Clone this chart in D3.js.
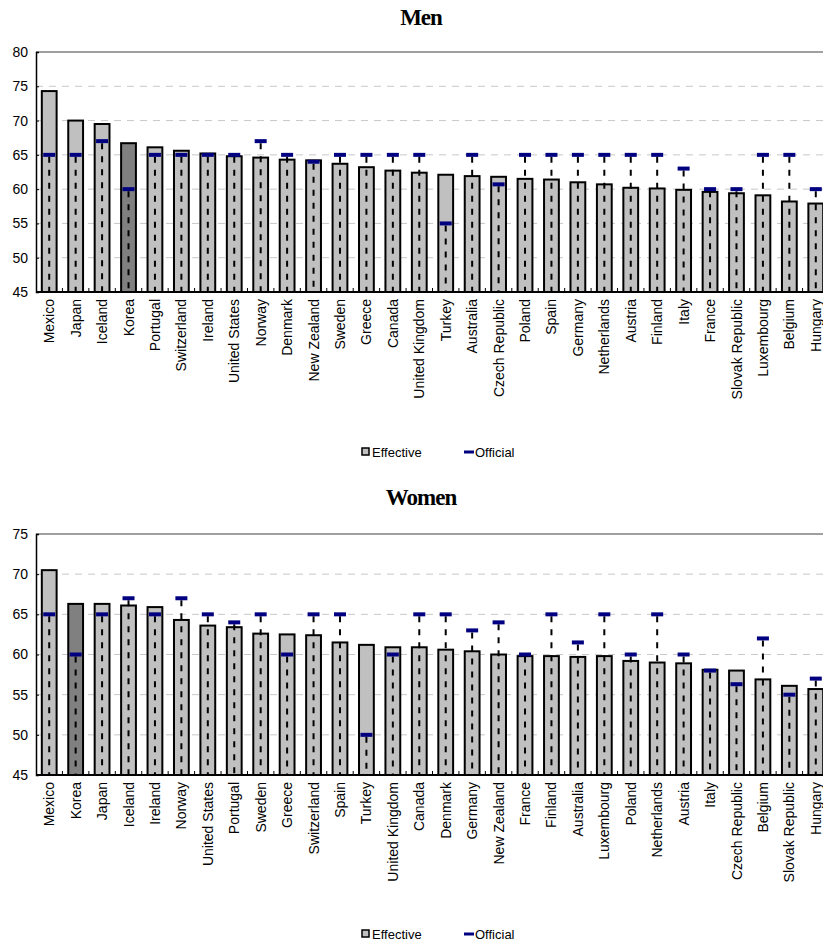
<!DOCTYPE html>
<html>
<head>
<meta charset="utf-8">
<script src="https://cdn.jsdelivr.net/npm/d3@7"></script>
<style>
  html, body { margin: 0; padding: 0; background: #ffffff; overflow: hidden; }
  svg { display: block; }
  text { font-family: "Liberation Sans", Arial, sans-serif; fill: #000; }
  .title { font-family: "Liberation Serif", "Times New Roman", serif; font-weight: bold; letter-spacing: -1px; }
</style>
</head>
<body>
<svg id="chart" width="823" height="946"></svg>
<script>
// Average effective age of retirement vs. official age, men and women
const menCountries = ["Mexico","Japan","Iceland","Korea","Portugal","Switzerland","Ireland","United States","Norway","Denmark","New Zealand","Sweden","Greece","Canada","United Kingdom","Turkey","Australia","Czech Republic","Poland","Spain","Germany","Netherlands","Austria","Finland","Italy","France","Slovak Republic","Luxembourg","Belgium","Hungary"];
const menEffective = [74.3,70.0,69.5,66.7,66.1,65.6,65.2,64.8,64.6,64.3,64.2,63.7,63.2,62.7,62.4,62.1,61.9,61.8,61.5,61.4,61.0,60.7,60.2,60.1,59.9,59.6,59.4,59.1,58.2,57.9];
const menOfficial  = [65,65,67,60,65,65,65,65,67,65,64,65,65,65,65,55,65,60.7,65,65,65,65,65,65,63,60,60,65,65,60];

const womenCountries = ["Mexico","Korea","Japan","Iceland","Ireland","Norway","United States","Portugal","Sweden","Greece","Switzerland","Spain","Turkey","United Kingdom","Canada","Denmark","Germany","New Zealand","France","Finland","Australia","Luxembourg","Poland","Netherlands","Austria","Italy","Czech Republic","Belgium","Slovak Republic","Hungary"];
const womenEffective = [70.5,66.3,66.3,66.1,65.9,64.3,63.6,63.4,62.6,62.5,62.4,61.5,61.2,60.9,60.9,60.6,60.4,60.0,59.8,59.8,59.7,59.8,59.2,59.0,58.9,58.1,58.0,56.9,56.1,55.7];
const womenOfficial  = [65,60,65,67,65,67,65,64,65,60,65,65,50,60,65,65,63,64,60,65,61.5,65,60,65,60,58,56.3,62,55,57];

const menTicks = [45,50,55,60,65,70,75,80];
const womenTicks = [45,50,55,60,65,70,75];
const legendLabels = ["Effective","Official"];
const highlighted = "Korea";

const svg = d3.select("#chart");

const panels = [
  { title: "Men", cats: menCountries, eff: menEffective, off: menOfficial, ticks: menTicks,
    top: 52, bottom: 292, titleY: 25, legendY: 452 },
  { title: "Women", cats: womenCountries, eff: womenEffective, off: womenOfficial, ticks: womenTicks,
    top: 534, bottom: 775, titleY: 505, legendY: 934 }
];

const left = 36, right = 829;

panels.forEach(p => {
  const g = svg.append("g");
  const rows = p.cats.map((c, i) => ({ cat: c, eff: p.eff[i], off: p.off[i] }));

  const x = d3.scaleBand().domain(p.cats).range([left, right]).paddingInner(0.44).paddingOuter(0.22);
  const y = d3.scaleLinear().domain(d3.extent(p.ticks)).range([p.bottom, p.top]);
  const step = x.step();
  const cx = c => x(c) + x.bandwidth() / 2;

  // title
  g.append("text").attr("class", "title")
    .attr("x", 421).attr("y", p.titleY)
    .attr("text-anchor", "middle").attr("font-size", 23)
    .text(p.title);

  // horizontal gridlines
  g.append("g").selectAll("line")
    .data(p.ticks.slice(1, -1))
    .join("line")
    .attr("x1", left).attr("x2", right)
    .attr("y1", d => y(d)).attr("y2", d => y(d))
    .attr("stroke", "#c8c8c8").attr("stroke-width", 1)
    .attr("stroke-dasharray", "7,6");

  // plot-area top border
  g.append("line")
    .attr("x1", left).attr("x2", right)
    .attr("y1", y(p.ticks[p.ticks.length - 1])).attr("y2", y(p.ticks[p.ticks.length - 1]))
    .attr("stroke", "#808080").attr("stroke-width", 1.5);

  // effective-age bars
  g.append("g").selectAll("rect")
    .data(rows)
    .join("rect")
    .attr("x", d => x(d.cat))
    .attr("width", x.bandwidth())
    .attr("y", d => y(d.eff))
    .attr("height", d => y.range()[0] - y(d.eff))
    .attr("fill", d => d.cat === highlighted ? "#808080" : "#c0c0c0")
    .attr("stroke", "#000").attr("stroke-width", 2);

  // dashed drop lines from official age to the axis
  g.append("g").selectAll("line")
    .data(rows)
    .join("line")
    .attr("x1", d => cx(d.cat)).attr("x2", d => cx(d.cat))
    .attr("y1", d => y(d.off) + 2).attr("y2", y.range()[0])
    .attr("stroke", "#000").attr("stroke-width", 2)
    .attr("stroke-dasharray", "6,7");

  // official-age markers
  g.append("g").selectAll("rect")
    .data(rows)
    .join("rect")
    .attr("x", d => cx(d.cat) - 6)
    .attr("width", 12)
    .attr("y", d => y(d.off) - 2)
    .attr("height", 4)
    .attr("fill", "#000080");

  // y axis
  const yAxis = d3.axisLeft(y).tickValues(p.ticks).tickSize(-3).tickPadding(8).tickFormat(d3.format("d"));
  const ya = g.append("g").attr("transform", `translate(${left},0)`).call(yAxis);
  ya.select(".domain").attr("stroke", "#000").attr("stroke-width", 1.5);
  ya.selectAll(".tick line").attr("stroke", "#000");
  ya.selectAll(".tick text").attr("font-size", 14).attr("font-family", "Liberation Sans, Arial, sans-serif").attr("fill", "#000");

  // x axis line
  g.append("line")
    .attr("x1", left).attr("x2", right)
    .attr("y1", y.range()[0]).attr("y2", y.range()[0])
    .attr("stroke", "#000").attr("stroke-width", 2);

  // category boundary ticks (inside)
  g.append("g").selectAll("line")
    .data(p.cats)
    .join("line")
    .attr("x1", d => cx(d) + step / 2).attr("x2", d => cx(d) + step / 2)
    .attr("y1", y.range()[0]).attr("y2", y.range()[0] - 4)
    .attr("stroke", "#000").attr("stroke-width", 1);

  // rotated category labels
  g.append("g").selectAll("text")
    .data(p.cats)
    .join("text")
    .attr("transform", d => `translate(${cx(d)},${y.range()[0] + 7}) rotate(-90)`)
    .attr("text-anchor", "end")
    .attr("dy", "0.36em")
    .attr("font-size", 14)
    .text(d => d);

  // legend
  const lg = g.append("g").attr("transform", `translate(0,${p.legendY})`);
  lg.append("rect").attr("x", 362).attr("y", -4).attr("width", 7).attr("height", 7)
    .attr("fill", "#c0c0c0").attr("stroke", "#000").attr("stroke-width", 1.5);
  lg.append("text").attr("x", 372).attr("y", 0).attr("dy", "0.35em").attr("font-size", 13).text(legendLabels[0]);
  lg.append("rect").attr("x", 464).attr("y", -1.5).attr("width", 10).attr("height", 3).attr("fill", "#000080");
  lg.append("text").attr("x", 475).attr("y", 0).attr("dy", "0.35em").attr("font-size", 13).text(legendLabels[1]);
});
</script>
</body>
</html>
